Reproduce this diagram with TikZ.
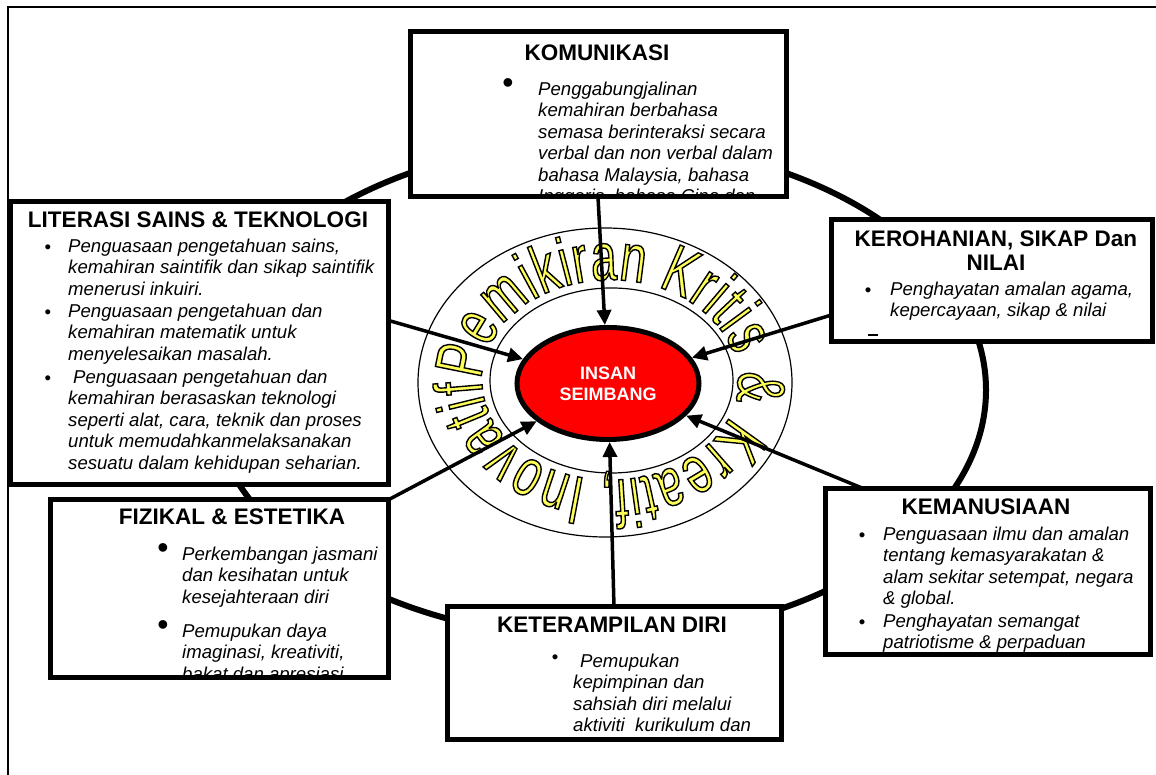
\documentclass[tikz,border=0pt]{standalone}
\usepackage{fontspec}
\setmainfont{Liberation Sans}
\newfontfamily\ringfam[FakeStretch=0.68]{Liberation Sans}
\usetikzlibrary{%
		arrows.meta%
		,calc%
		,decorations.text%
		,shapes.geometric%
	}
\definecolor{ringyellow}{RGB}{255,255,90}
\newcommand\headfont{\bfseries\fontsize{22.5}{24}\selectfont}
\newcommand\bodyfont{\itshape\fontsize{18.6}{21.5}\selectfont}
\newcommand\ringfont{\ringfam\fontsize{68}{72}\selectfont}
% yellow letters with a thin black outline
\newcommand\ringline{\special{pdf:code 0 0 0 RG 2 Tr 1.4 w}}
\tikzset{
	panel/.style={draw, line width=5pt, fill=white, inner sep=0pt, outer sep=0pt},
	headtext/.style={font=\headfont, align=center, inner sep=0pt},
	bodytext/.style={font=\bodyfont, align=left, inner sep=0pt, anchor=north west},
	smallbul/.style={font=\fontsize{18.6}{20}\selectfont, inner sep=0pt},
	bigbul/.style={font=\fontsize{32}{32}\selectfont, inner sep=0pt},
	arr/.style={line width=3.5pt, -{Triangle[length=15pt,width=14pt]}},
	ringtext/.style={decorate, decoration={text along path,
		text={|\ringfont\ringline|Pemikiran Kritis {\&} Kreatif, Inovatif},
		text align={fit to path}, text color=ringyellow, raise=2pt}},
}

\begin{document}
\begin{tikzpicture}[x=1pt,y=1pt]
			\useasboundingbox (0,0) rectangle (1156,775);
			\draw[line width=2pt] (8,0) -- (8,768) -- (1156,768);
			
			% big ring and the two thin rings
			\draw[line width=6pt] (598,385) ellipse [x radius=388, y radius=248];
			\draw[line width=1.2pt] (605,392.5) ellipse [x radius=187, y radius=154.5];
			\draw[line width=1.2pt] (611.5,394.5) ellipse [x radius=121.5, y radius=92.5];
			
			\begin{scope}
				\path[ringtext] (610,395) ++(180:126 and 98) arc[start angle=180, end angle=-180, x radius=126, y radius=98];
			\end{scope}
			
			% boxes
			\node[panel, minimum width=376pt, minimum height=165pt] (kom) at (598,660.5) {};
			\node[panel, minimum width=378pt, minimum height=283pt] (lit) at (199,431.5) {};
			\node[panel, minimum width=321pt, minimum height=122pt] (ker) at (991.5,494) {};
			\node[panel, minimum width=325pt, minimum height=166pt] (kem) at (987.5,203) {};
			\node[panel, minimum width=338pt, minimum height=178pt] (fiz) at (219,186) {};
			\node[panel, minimum width=334pt, minimum height=133pt] (ket) at (614,101.5) {};
			
			\begin{scope}
				\clip ($(kom.south west)+(2.5,2.5)$) rectangle ($(kom.north east)-(2.5,2.5)$);
				\node[headtext] (komtitle) at (597,722) {KOMUNIKASI};
				\node[bigbul] (kombul) at (508,689) {\textbullet};
				\node[bodytext] (komtext) at (538,693.5) {Penggabungjalinan\\kemahiran berbahasa\\semasa berinteraksi secara\\verbal dan non verbal dalam\\bahasa Malaysia, bahasa\\Inggeris, bahasa Cina dan};
			\end{scope}
			
			\begin{scope}
				\clip ($(lit.south west)+(2.5,2.5)$) rectangle ($(lit.north east)-(2.5,2.5)$);
				\node[headtext] (littitle) at (198,555) {LITERASI SAINS \& TEKNOLOGI};
				\node[smallbul] (litbula) at (48,526) {\textbullet};
				\node[smallbul] (litbulb) at (48,461) {\textbullet};
				\node[smallbul] (litbulc) at (48,395) {\textbullet};
				\node[bodytext] (littexta) at (68,536.5) {Penguasaan pengetahuan sains,\\kemahiran saintifik dan sikap saintifik\\menerusi inkuiri.};
				\node[bodytext] (littextb) at (68,471.5) {Penguasaan pengetahuan dan\\kemahiran matematik untuk\\menyelesaikan masalah.};
				\node[bodytext] (littextc) at (68,405.5) {\hspace*{5pt}Penguasaan pengetahuan dan\\kemahiran berasaskan teknologi\\seperti alat, cara, teknik dan proses\\untuk memudahkanmelaksanakan\\sesuatu dalam kehidupan seharian.};
			\end{scope}
			
			\begin{scope}
				\clip ($(ker.south west)+(2.5,2.5)$) rectangle ($(ker.north east)-(2.5,2.5)$);
				\node[headtext] (kertitle) at (996,524) {KEROHANIAN, SIKAP Dan\\NILAI};
				\node[smallbul] (kerbul) at (868,483) {\textbullet};
				\node[bodytext] (kertext) at (890,493.5) {Penghayatan amalan agama,\\kepercayaan, sikap \& nilai};
				\fill (868,438.5) rectangle (878,441);
			\end{scope}
			
			\begin{scope}
				\clip ($(kem.south west)+(2.5,2.5)$) rectangle ($(kem.north east)-(2.5,2.5)$);
				\node[headtext] (kemtitle) at (986,268) {KEMANUSIAAN};
				\node[smallbul] (kembula) at (862,238) {\textbullet};
				\node[smallbul] (kembulb) at (862,151) {\textbullet};
				\node[bodytext] (kemtexta) at (883,248.5) {Penguasaan ilmu dan amalan\\tentang kemasyarakatan \&\\alam sekitar setempat, negara\\\& global.};
				\node[bodytext] (kemtextb) at (883,161.5) {Penghayatan semangat\\patriotisme \& perpaduan};
			\end{scope}
			
			\begin{scope}
				\clip ($(fiz.south west)+(2.5,2.5)$) rectangle ($(fiz.north east)-(2.5,2.5)$);
				\node[headtext] (fiztitle) at (232,258) {FIZIKAL \& ESTETIKA};
				\node[bigbul] (fizbula) at (163,224) {\textbullet};
				\node[bigbul] (fizbulb) at (163,147) {\textbullet};
				\node[bodytext] (fiztexta) at (182,228.5) {Perkembangan jasmani\\dan kesihatan untuk\\kesejahteraan diri};
				\node[bodytext] (fiztextb) at (182,151.5) {Pemupukan daya\\imaginasi, kreativiti,\\bakat dan apresiasi};
			\end{scope}
			
			\begin{scope}
				\clip ($(ket.south west)+(2.5,2.5)$) rectangle ($(ket.north east)-(2.5,2.5)$);
				\node[headtext] (kettitle) at (612,150) {KETERAMPILAN DIRI};
				\node[smallbul] (ketbul) at (555,116) {\textbullet};
				\node[bodytext] (kettext) at (573,121.5) {\hspace*{7pt}Pemupukan\\kepimpinan dan\\sahsiah diri melalui\\aktiviti\ \ kurikulum dan};
			\end{scope}
			
			% centre
			\node[ellipse, draw, line width=5pt, fill=red, minimum width=182pt, minimum height=112pt, inner sep=0pt, text=white, font=\bfseries\fontsize{18}{21}\selectfont, align=center] (insan) at (608,391.5) {INSAN\\SEIMBANG};
			
			\draw[arr] (kom.south) -- (insan);
			\draw[arr] (lit.7) -- (insan);
			\draw[arr] (ker.192) -- (insan);
			\draw[arr] (kem.146) -- (insan);
			\draw[arr] (ket.north) -- (insan);
			\draw[arr] (fiz.north east) -- (insan);
		\end{tikzpicture}
\end{document}
